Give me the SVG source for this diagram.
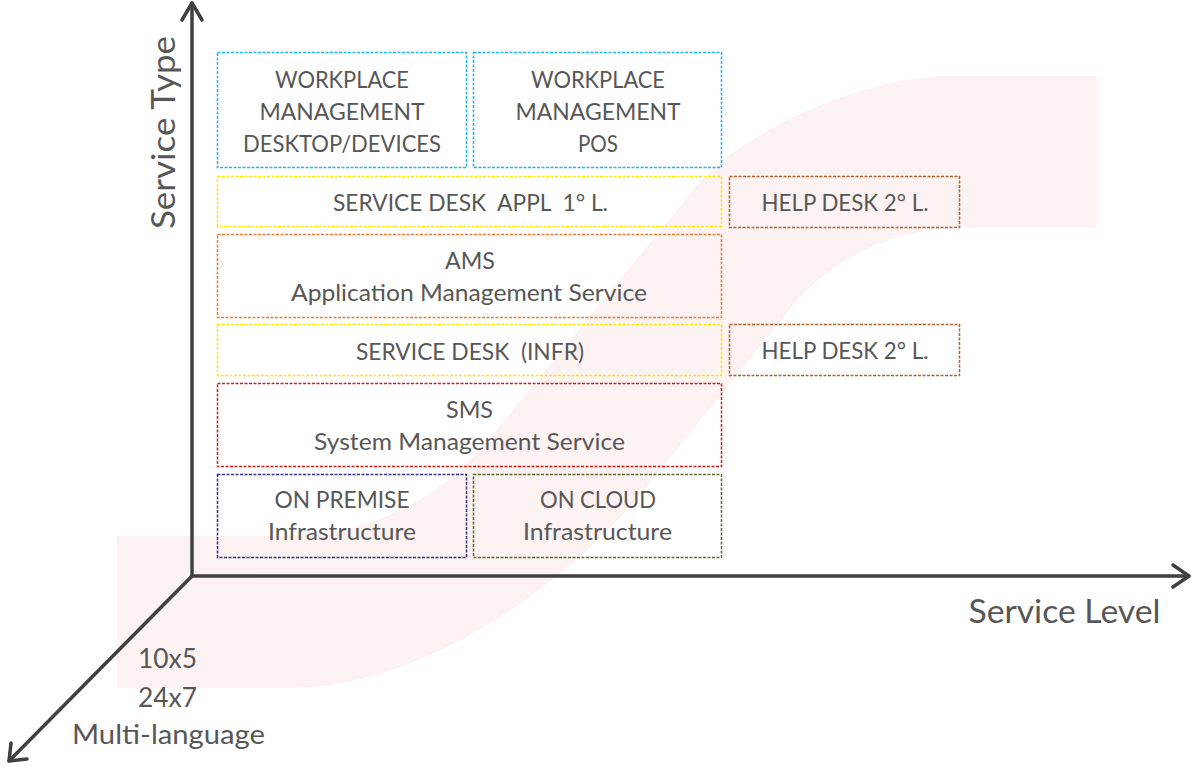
<svg xmlns="http://www.w3.org/2000/svg" width="1192" height="768" viewBox="0 0 1192 768">
<style>
.t{font-family:Lato,"Liberation Sans",sans-serif;font-size:24px;fill:#575757;text-anchor:middle}
.ax{font-family:Lato,"Liberation Sans",sans-serif;font-size:32px;fill:#575757;text-anchor:middle}
.sm{font-family:Lato,"Liberation Sans",sans-serif;font-size:26px;fill:#575757;text-anchor:middle}
.b{fill:none;stroke-width:1.5;stroke-dasharray:3 1.5}
.axis{fill:none;stroke:#404040;stroke-width:3.5;stroke-linecap:round;stroke-linejoin:round}
</style>
<rect width="1192" height="768" fill="#ffffff"/>
<path id="bg" d="M1097,76 L950,76 C860,76 740,135 700,182 L480,450 C420,515 350,536 280,536 L117,536 L117,688 L290,688 C420,688 560,590 640,495 L800,297 C850,245 910,227 975,227 L1097,227 Z" fill="#FCF2F1"/>
<g id="wm-desktop">
<rect class="b" x="217.5" y="52.5" width="249" height="115" stroke="#1CB5F0"/>
<text class="t" x="342" y="87.5" textLength="134" lengthAdjust="spacingAndGlyphs">WORKPLACE</text>
<text class="t" x="342" y="119.5" textLength="165" lengthAdjust="spacingAndGlyphs">MANAGEMENT</text>
<text class="t" x="342" y="151.5" textLength="198" lengthAdjust="spacingAndGlyphs">DESKTOP/DEVICES</text>
</g>
<g id="wm-pos">
<rect class="b" x="473.5" y="52.5" width="248" height="115" stroke="#1CB5F0"/>
<text class="t" x="598" y="87.5" textLength="134" lengthAdjust="spacingAndGlyphs">WORKPLACE</text>
<text class="t" x="598" y="119.5" textLength="165" lengthAdjust="spacingAndGlyphs">MANAGEMENT</text>
<text class="t" x="598" y="151.5" textLength="40" lengthAdjust="spacingAndGlyphs">POS</text>
</g>
<g id="sd-appl">
<rect class="b" x="217.5" y="176.5" width="504" height="50" stroke="#FFE800"/>
<text class="t" x="470.5" y="211" textLength="275" lengthAdjust="spacingAndGlyphs" xml:space="preserve">SERVICE DESK  APPL  1° L.</text>
</g>
<g id="hd-1">
<rect class="b" x="729.5" y="176.5" width="230" height="51" stroke="#B0622E"/>
<text class="t" x="845" y="210.5" textLength="167" lengthAdjust="spacingAndGlyphs">HELP DESK 2° L.</text>
</g>
<g id="ams">
<rect class="b" x="217.5" y="234.5" width="504" height="83" stroke="#ED7D31"/>
<text class="t" x="470" y="269" textLength="50" lengthAdjust="spacingAndGlyphs">AMS</text>
<text class="t" x="469" y="301" textLength="356" lengthAdjust="spacingAndGlyphs">Application Management Service</text>
</g>
<g id="sd-infr">
<rect class="b" x="217.5" y="324.5" width="504" height="51" stroke="#FFE800"/>
<text class="t" x="470" y="359.5" textLength="228" lengthAdjust="spacingAndGlyphs" xml:space="preserve">SERVICE DESK  (INFR)</text>
</g>
<g id="hd-2">
<rect class="b" x="729.5" y="324.5" width="230" height="51" stroke="#B0622E"/>
<text class="t" x="845" y="359" textLength="167" lengthAdjust="spacingAndGlyphs">HELP DESK 2° L.</text>
</g>
<g id="sms">
<rect class="b" x="217.5" y="383.5" width="504" height="83" stroke="#C9211E"/>
<text class="t" x="469.5" y="418" textLength="47" lengthAdjust="spacingAndGlyphs">SMS</text>
<text class="t" x="469.5" y="450" textLength="311" lengthAdjust="spacingAndGlyphs">System Management Service</text>
</g>
<g id="on-premise">
<rect class="b" x="217.5" y="474.5" width="249" height="83" stroke="#2F2F8F"/>
<text class="t" x="342" y="508" textLength="135" lengthAdjust="spacingAndGlyphs">ON PREMISE</text>
<text class="t" x="342" y="540" textLength="148" lengthAdjust="spacingAndGlyphs">Infrastructure</text>
</g>
<g id="on-cloud">
<rect class="b" x="473.5" y="474.5" width="248" height="83" stroke="#5A6B32"/>
<text class="t" x="598" y="508" textLength="116" lengthAdjust="spacingAndGlyphs">ON CLOUD</text>
<text class="t" x="597.5" y="540" textLength="149" lengthAdjust="spacingAndGlyphs">Infrastructure</text>
</g>
<g id="axes">
<line class="axis" x1="192" y1="576" x2="192" y2="3"/>
<polyline class="axis" points="182,20 192,3 202,20"/>
<line class="axis" x1="192" y1="576" x2="1189" y2="576"/>
<polyline class="axis" points="1173,565 1189,576 1173,587"/>
<line class="axis" x1="192" y1="576" x2="9" y2="761"/>
<polyline class="axis" points="11,743 9,761 27,759"/>
</g>
<g id="labels">
<text class="ax" transform="translate(175,132.5) rotate(-90)" x="0" y="0" textLength="193" lengthAdjust="spacingAndGlyphs">Service Type</text>
<text class="ax" x="1064.5" y="623" textLength="192" lengthAdjust="spacingAndGlyphs">Service Level</text>
<text class="sm" x="167.5" y="668" textLength="59" lengthAdjust="spacingAndGlyphs">10x5</text>
<text class="sm" x="167.5" y="706.5" textLength="59" lengthAdjust="spacingAndGlyphs">24x7</text>
<text class="sm" x="168.5" y="744" textLength="193" lengthAdjust="spacingAndGlyphs">Multi-language</text>
</g>
</svg>
